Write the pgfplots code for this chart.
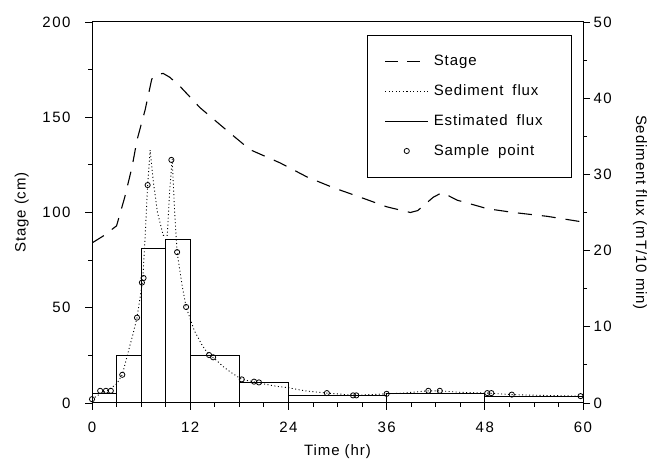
\documentclass[border=0pt]{standalone}
\usepackage{pgfplots}
\pgfplotsset{compat=1.18}
\usepackage{fontspec}
\setmainfont{Liberation Sans}[LetterSpace=6]
\newfontfamily\tickfont[LetterSpace=10]{Liberation Sans}

\begin{document}
\begin{tikzpicture}
\pgfplotsset{
  every axis/.append style={
    scale only axis, width=491pt, height=381pt,
    xmin=0, xmax=60,
    tick align=outside,
    major tick length=7pt, minor tick length=4pt,
    tick style={black, line width=0.8pt},
    ticklabel style={font=\tickfont\fontsize{15}{17}\selectfont},
    /pgf/number format/assume math mode=true,
    axis line style={line width=1pt},
  },
}
% Left axis: stage
\begin{axis}[
  ymin=0, ymax=200,
  xtick={0,12,24,36,48,60},
  minor xtick={3,6,9,15,18,21,27,30,33,39,42,45,51,54,57},
  ytick={0,50,100,150,200},
  minor ytick={25,75,125,175},
  xtick pos=bottom, ytick pos=left,
  yticklabel style={xshift=-11pt},
  xticklabel style={yshift=-8pt},
  xlabel={Time (hr)},
  ylabel={Stage (cm)},
  every axis x label/.style={at={(axis description cs:0.5,-0.128)}, anchor=center, font=\fontsize{15}{17}\selectfont},
  every axis y label/.style={at={(axis description cs:-0.143,0.5)}, rotate=90, anchor=center, font=\fontsize{15}{17}\selectfont},
]
\addplot[black, line width=1.1pt, dash pattern=on 14pt off 10pt] coordinates {
(0,84) (1.5,88) (3,93) (4,108) (4.9,124) (5.5,138) (6.5,154) (7.3,170)
(8,172.5) (8.7,173) (9.5,171) (10.8,166) (13.2,155) (16.5,143) (19.3,133)
(23,126) (26.3,118.6) (29.5,113) (32.8,108) (36,103) (38.9,100) (39.8,101)
(41.7,108) (42.8,110.5) (44.6,106.5) (48.3,102) (51.5,100) (55.6,98) (60,95)
};
\end{axis}
% Right axis: sediment flux
\begin{axis}[
  ymin=0, ymax=50,
  axis x line=none,
  axis y line*=right,
  ytick={0,10,20,30,40,50},
  minor ytick={5,15,25,35,45},
  ylabel={Sediment flux (mT/10 min)},
  every axis y label/.style={at={(axis description cs:1.116,0.5)}, rotate=-90, anchor=center, font=\fontsize{15}{17}\selectfont},
  legend cell align=left,
  legend image code/.code={\draw[mark repeat=2,mark phase=2,#1] plot coordinates {(0pt,0pt)(21.5pt,0pt)(43pt,0pt)};},
  legend style={at={(axis description cs:0.978,0.966)}, anchor=north east,
    draw=black, line width=0.8pt, fill=white,
    font=\fontsize{15}{17}\selectfont,
    inner xsep=17pt, inner ysep=19pt, row sep=15pt,
    /tikz/every odd column/.append style={column sep=4pt},
    nodes={text width=120pt, inner sep=1pt, text depth=2pt}},
]
\addlegendimage{black, line width=1.1pt, dash pattern=on 13pt off 9pt}
\addlegendentry{Stage}
\addplot[black, line width=0.9pt, dash pattern=on 1pt off 2.5pt] coordinates {
(0,0.5) (1,1.2) (2,1.7) (3,2.5) (3.7,3.7) (4.5,7) (5,9) (5.5,11.2) (6.2,16.1)
(6.5,22) (6.8,28.6) (7.1,33.2) (7.5,29) (8,25) (8.7,22) (9.2,22) (9.5,28)
(9.8,32) (10.1,25) (10.4,19.8) (11,15.5) (11.5,12.6) (12.5,9.5) (13.5,7.5)
(14.3,6.3) (15,5.8) (16,4.8) (17,4) (18.3,3.1) (19.9,2.75) (21,2.5) (22.5,2.2)
(24,2) (26,1.6) (28.7,1.3) (30,1.2) (32,1.0) (34,1.1) (36,1.2) (38,1.3)
(41.1,1.6) (42.5,1.6) (45,1.4) (48.3,1.3) (51.3,1.1) (55,1.0) (59.7,0.9)
};
\addlegendentry{Sediment\hspace{4pt} flux}
\addplot[ybar interval, draw=black, fill=none, line width=0.9pt,
  legend image code/.code={\draw[black, line width=0.9pt] (0pt,0pt) -- (43pt,0pt);}]
  coordinates {
(0,1.3) (3,6.3) (6,20.3) (9,21.4) (12,6.3) (18,2.75) (24,1.0) (36,1.3) (48,0.8) (60,0.8)
};
\addlegendentry{Estimated\hspace{4pt} flux}
\addplot[only marks, mark=o, mark size=2.6pt, black, line width=0.8pt] coordinates {
(0,0.5) (1,1.6) (1.7,1.6) (2.3,1.6) (3.7,3.7) (5.5,11.2) (6.1,15.8) (6.3,16.4)
(6.8,28.6) (9.7,31.9) (10.4,19.8) (11.5,12.6) (14.3,6.3) (14.8,6.0) (18.3,3.1)
(19.8,2.8) (20.4,2.7) (28.7,1.3) (31.9,1.0) (32.3,1.0) (36,1.2) (41.1,1.6)
(42.5,1.6) (48.3,1.3) (48.8,1.3) (51.3,1.1) (59.7,0.9)
};
\addlegendentry{Sample\hspace{4pt} point}
\end{axis}
\pgfresetboundingbox
\path[use as bounding box] ([shift={(-92pt,-58pt)}]current axis.south west) rectangle ([shift={(66pt,22pt)}]current axis.north east);
\end{tikzpicture}
\end{document}
